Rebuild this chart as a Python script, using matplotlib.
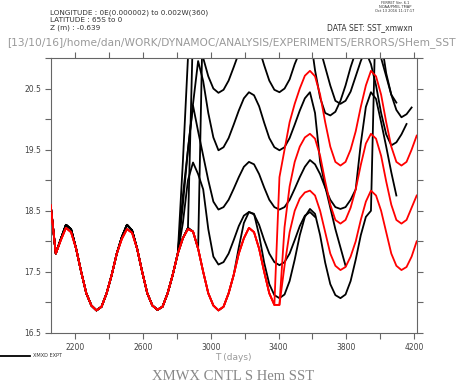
import matplotlib
matplotlib.use('Agg')
import matplotlib.pyplot as plt
from matplotlib.lines import Line2D
import numpy as np

# time axis: monthly samples (30 day months)
days = np.arange(2055, 4216, 30)

# common run before the perturbations (black members)
base_black = [18.59, 17.80, 18.04, 18.27, 18.20, 17.88, 17.50, 17.15, 16.95, 16.87, 16.93, 17.15,
              17.45, 17.80, 18.07, 18.27, 18.18, 17.88, 17.50, 17.15, 16.95, 16.88, 16.93, 17.15,
              17.45, 17.80, 18.05, 18.22, 18.16, 17.88, 17.50, 17.15, 16.95, 16.87, 16.93, 17.15,
              17.45, 17.80, 18.08, 18.30, 18.20, 17.90, 17.52, 17.16, 16.95, 16.88]
# common run (red members)
base_red = [18.59, 17.80, 18.02, 18.22, 18.15, 17.88, 17.50, 17.15, 16.95, 16.87, 16.93, 17.15,
            17.45, 17.80, 18.04, 18.20, 18.14, 17.88, 17.50, 17.15, 16.95, 16.88, 16.93, 17.15,
            17.45, 17.80, 18.05, 18.20, 18.16, 17.88, 17.50, 17.15, 16.95, 16.87, 16.93, 17.15,
            17.45, 17.80, 18.05, 18.22, 18.15, 17.88, 17.50, 17.15, 16.96, 16.96]

# black members: (index where they leave the common run, values after that)
ka_start = 26
ka = [18.60, 19.50, 20.22, 19.80, 19.40, 19.00, 18.65, 18.52, 18.56, 18.68, 18.86, 19.05,
      19.22, 19.30, 19.26, 19.10, 18.88, 18.68, 18.56, 18.52, 18.56, 18.68, 18.86, 19.05,
      19.22, 19.33, 19.26, 19.10, 18.88, 18.68, 18.56, 18.53, 18.56, 18.68, 18.85, 19.60,
      20.20, 20.44, 20.33, 19.95, 19.55, 19.13, 18.75]
kb_start = 26
kb = [18.30, 19.00, 19.29, 19.10, 18.85, 18.20, 17.75, 17.62, 17.66, 17.80, 18.02, 18.25,
      18.42, 18.48, 18.44, 18.27, 18.02, 17.80, 17.66, 17.61, 17.66, 17.80, 18.02, 18.25,
      18.42, 18.48, 18.40]
kd_start = 26
kd = [18.75, 19.50, 20.25, 20.95, 20.62, 20.10, 19.70, 19.49, 19.54, 19.69, 19.91, 20.14,
      20.34, 20.44, 20.39, 20.21, 19.94, 19.69, 19.54, 19.49, 19.54, 19.69, 19.91, 20.14,
      20.34, 20.44, 20.10, 19.30, 18.90, 18.55, 18.20, 17.90, 17.60]
ke_start = 26
ke = [19.30, 21.00, 21.60, 21.40, 21.00, 20.70, 20.50, 20.43, 20.48, 20.63, 20.85, 21.08,
      21.28, 21.38, 21.33, 21.15, 20.88, 20.63, 20.48, 20.44, 20.50, 20.65, 20.90, 21.10,
      21.30, 21.40, 21.35, 21.15, 20.85, 20.55, 20.30, 20.25, 20.30, 20.45, 20.70, 20.95,
      21.15, 21.25, 21.20, 21.00, 20.70, 20.40, 20.15, 20.03, 20.08, 20.19]
kx1_start = 28
kx1 = [21.50, 22.50, 22.60, 22.40, 22.20, 22.00, 22.10, 22.30, 22.50, 22.60, 22.60, 22.50,
       22.30, 22.10, 22.00, 22.10, 22.30, 22.50, 22.60, 22.60, 22.40, 22.20, 21.90, 21.40,
       20.80, 20.35, 20.10, 20.06, 20.12, 20.30, 20.55, 20.85, 21.10, 21.20, 21.10, 20.90,
       20.55, 20.10, 19.75, 19.57, 19.62, 19.75, 19.92]
kx2_start = 30
kx2 = [22.00, 22.60, 22.70, 22.50, 22.30, 22.20, 22.30, 22.50, 22.70, 22.80, 22.70, 22.50,
       22.30, 22.20, 22.30, 22.50, 22.70, 22.80, 22.70, 22.50, 22.30, 22.20, 22.30, 22.50,
       22.70, 22.80, 22.70, 22.50, 22.30, 22.20, 22.30, 22.50, 22.70, 22.40, 21.90, 21.30,
       20.75, 20.40, 20.27]
klow_start = 37
klow = [17.90, 18.30, 18.48, 18.45, 18.10, 17.65, 17.30, 17.12, 17.07, 17.13, 17.35, 17.70,
        18.10, 18.40, 18.53, 18.45, 18.10, 17.65, 17.30, 17.12, 17.07, 17.13, 17.35, 17.70,
        18.10, 18.40, 18.50, 22.00]

# red members
r1_start = 45
r1 = [19.05, 19.50, 19.95, 20.25, 20.50, 20.71, 20.79, 20.70, 20.40, 19.95, 19.55, 19.30,
      19.24, 19.30, 19.50, 19.80, 20.20, 20.55, 20.79, 20.70, 20.40, 19.95, 19.55, 19.30,
      19.24, 19.30, 19.50, 19.73]
r2_start = 46
r2 = [18.23, 18.90, 19.30, 19.55, 19.70, 19.76, 19.68, 19.40, 18.98, 18.60, 18.35, 18.29,
      18.35, 18.55, 18.85, 19.25, 19.60, 19.76, 19.68, 19.40, 18.98, 18.60, 18.35, 18.29,
      18.35, 18.55, 18.75]
r3_start = 46
r3 = [17.60, 18.15, 18.50, 18.70, 18.80, 18.83, 18.75, 18.50, 18.15, 17.80, 17.60, 17.53,
      17.58, 17.75, 18.00, 18.35, 18.65, 18.83, 18.75, 18.50, 18.15, 17.80, 17.60, 17.53,
      17.58, 17.75, 18.00]

black_runs = [(ka_start, ka), (kb_start, kb), (kd_start, kd), (ke_start, ke),
              (kx1_start, kx1), (kx2_start, kx2), (klow_start, klow)]
red_runs = [(r1_start, r1), (r2_start, r2), (r3_start, r3)]

fig = plt.figure(figsize=(4.63, 3.82), dpi=100)
ax = fig.add_axes([50.7 / 463, 1 - 333 / 382, 366 / 463, 275 / 382])

for start, vals in black_runs:
    y = base_black[:start] + vals
    ax.plot(days[:len(y)], y, color='black', lw=1.3, zorder=2)
for start, vals in red_runs:
    y = base_red[:start] + vals
    ax.plot(days[:len(y)], y, color='red', lw=1.3, zorder=3)

ax.set_xlim(2055, 4215)
ax.set_ylim(16.5, 21.0)
ax.set_xticks(np.arange(2200, 4201, 200))
ax.set_xticklabels([str(d) if d % 400 == 200 else '' for d in range(2200, 4201, 200)])
ax.set_yticks(np.arange(16.5, 21.01, 0.5))
ax.set_yticklabels(['%.1f' % v if round(v * 2) % 2 == 1 else '' for v in np.arange(16.5, 21.01, 0.5)])
ax.tick_params(direction='out', length=4, width=0.8, color='#666666', labelsize=5.5,
               labelcolor='#444444', top=True, right=True, pad=3)
for s in ax.spines.values():
    s.set_color('#666666')
    s.set_linewidth(0.8)

ax.set_xlabel('T (days)', fontsize=6.5, color='#999999', labelpad=1)

# header texts
fig.text(50 / 463, 1 - 13 / 382, 'LONGITUDE : 0E(0.000002) to 0.002W(360)', fontsize=5.2, va='center', color='#333333')
fig.text(50 / 463, 1 - 20.5 / 382, 'LATITUDE : 65S to 0', fontsize=5.2, va='center', color='#333333')
fig.text(50 / 463, 1 - 28 / 382, 'Z (m) : -0.639', fontsize=5.2, va='center', color='#333333')
fig.text(413 / 463, 1 - 28 / 382, 'DATA SET: SST_xmwxn', fontsize=5.5, va='center', ha='right', color='#333333')
fig.text(395 / 463, 1 - 7 / 382, 'FERRET Ver. 6.1\nNOAA/PMEL TMAP\nOct 13 2016 11:17:17',
         fontsize=2.6, va='center', ha='center', color='#333333', linespacing=1.1)
fig.text(7 / 463, 1 - 43 / 382, '[13/10/16]/home/dan/WORK/DYNAMOC/ANALYSIS/EXPERIMENTS/ERRORS/SHem_SST',
         fontsize=7.7, va='center', color='#999999')

fig.text(233 / 463, 1 - 377 / 382, 'XMWX CNTL S Hem SST', fontsize=10.5, family='Liberation Serif',
         ha='center', va='center', color='#888888')

fig.add_artist(Line2D([0, 30 / 463], [1 - 355.7 / 382] * 2, color='black', lw=1.3))
fig.text(33 / 463, 1 - 355.7 / 382, 'XMXD EXPT', fontsize=3.6, va='center', color='#333333')

fig.savefig('out.png', dpi=100)
